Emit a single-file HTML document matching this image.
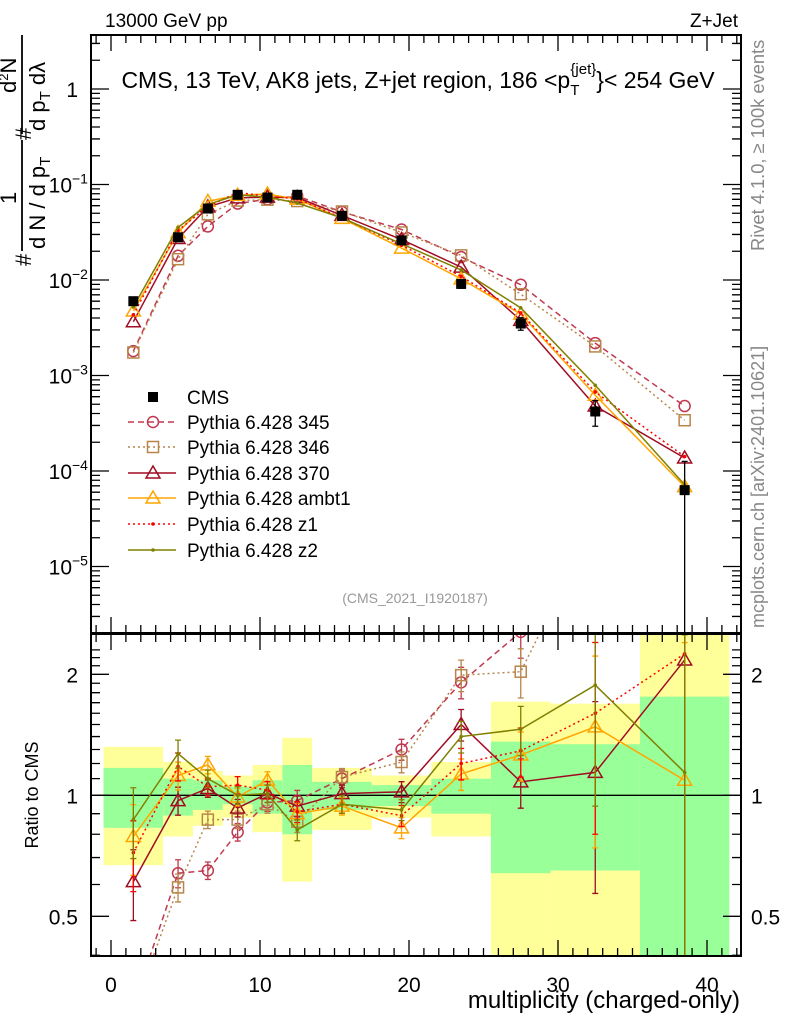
<!DOCTYPE html>
<html><head><meta charset="utf-8"><style>
html,body{margin:0;background:#fff;overflow:hidden;width:786px;height:1024px;}
svg{display:block;font-family:"Liberation Sans",sans-serif;}
</style></head><body>
<svg id="chart" width="786" height="1024" viewBox="0 0 786 1024" xmlns="http://www.w3.org/2000/svg">
<defs>
<clipPath id="clipMain"><rect x="91" y="35" width="650" height="598"/></clipPath>
<clipPath id="clipRatio"><rect x="91" y="634" width="650" height="322"/></clipPath>
</defs>
<g id="bands" clip-path="url(#clipRatio)"></g>
<g id="mainMarks" clip-path="url(#clipMain)"></g>
<g id="ratioMarks" clip-path="url(#clipRatio)"></g>
<g id="axes"></g>
<text x="105" y="27" font-size="19">13000 GeV pp</text>
<text x="738" y="27" font-size="19" text-anchor="end">Z+Jet</text>
<text x="418" y="88" font-size="23" text-anchor="middle">CMS, 13 TeV, AK8 jets, Z+jet region, 186 &lt;p<tspan font-size="15" dy="7">T</tspan><tspan font-size="15" dy="-21" dx="-9">{jet}</tspan><tspan dy="14">}&lt; 254 GeV</tspan></text>
<text x="415" y="603" font-size="14" fill="#999" text-anchor="middle">(CMS_2021_I1920187)</text>
<text transform="translate(764,251) rotate(-90)" font-size="18.3" fill="#888">Rivet 4.1.0, ≥ 100k events</text>
<text transform="translate(764,628) rotate(-90)" font-size="18" fill="#888">mcplots.cern.ch [arXiv:2401.10621]</text>
<g font-size="22">
<text transform="translate(31,266) rotate(-90)">#</text>
<text transform="translate(16,204) rotate(-90)">1</text>
<line x1="22" y1="140" x2="22" y2="251" stroke="#000" stroke-width="1.8"/>
<text transform="translate(45,249) rotate(-90)">d N / d p<tspan font-size="15" dy="5">T</tspan></text>
<text transform="translate(31,140) rotate(-90)">#</text>
<text transform="translate(16,93) rotate(-90)">d<tspan font-size="13" dy="-8">2</tspan><tspan dy="8">N</tspan></text>
<line x1="22" y1="35" x2="22" y2="134" stroke="#000" stroke-width="1.8"/>
<text transform="translate(45,131) rotate(-90)">d p<tspan font-size="15" dy="5">T</tspan><tspan dy="-5"> dλ</tspan></text>
</g>
<text transform="translate(38,795) rotate(-90)" font-size="18" text-anchor="middle">Ratio to CMS</text>
<text x="740" y="1008" font-size="24" text-anchor="end">multiplicity (charged-only)</text>
<g id="legend"></g>
</svg>
<script>
const NS="http://www.w3.org/2000/svg";
const binCenters=[1.5,4.5,6.5,8.5,10.5,12.5,15.5,19.5,23.5,27.5,32.5,38.5];
const cmsValues=[0.006,0.028,0.056,0.078,0.073,0.078,0.047,0.026,0.0091,0.0035,0.00042,0.000063];
const cmsRelErr=[0.05,0.05,0.04,0.04,0.04,0.04,0.05,0.06,0.1,0.15,0.3,1.0];
const ratio345=[0.3,0.64,0.65,0.81,0.96,0.97,1.1,1.3,1.91,2.55,5.2,7.6];
const ratio346=[0.29,0.59,0.87,0.87,0.95,0.86,1.11,1.21,1.99,2.03,4.8,5.4];
const ratio370=[0.61,0.97,1.04,0.93,1.01,0.94,1.01,1.02,1.5,1.08,1.14,2.17];
const ratioAmbt1=[0.79,1.12,1.19,0.99,1.09,0.9,0.94,0.83,1.13,1.26,1.48,1.09];
const ratioZ1=[0.72,1.18,1.05,1.06,1.03,0.91,0.95,0.89,1.2,1.29,1.6,2.25];
const ratioZ2=[0.87,1.27,1.1,1.0,1.01,0.82,0.95,0.92,1.4,1.46,1.88,1.14];
const modelRelErr=[0.2,0.08,0.05,0.05,0.05,0.06,0.05,0.06,0.09,0.14,0.5,1.2];
const bandEdges=[-0.5,3.5,5.5,7.5,9.5,11.5,13.5,17.5,21.5,25.5,29.5,35.5,41.5];
const yellowHi=[1.32,1.21,1.15,1.12,1.19,1.39,1.17,1.12,1.21,1.71,1.69,3.0];
const yellowLo=[0.67,0.79,0.84,0.88,0.81,0.61,0.82,0.88,0.79,0.3,0.3,0.3];
const greenHi=[1.17,1.1,1.09,1.05,1.09,1.19,1.08,1.06,1.1,1.36,1.34,1.76];
const greenLo=[0.83,0.89,0.92,0.95,0.9,0.8,0.92,0.94,0.9,0.64,0.65,0.3];
const xTickLabels=[0,10,20,30,40];

const X=v=>111+14.9*v;
const Ym=v=>89-95.5*Math.log10(v);
const Yr=r=>795.3-121*Math.log2(r);
function el(tag,attrs,parent){const e=document.createElementNS(NS,tag);for(const k in attrs)e.setAttribute(k,attrs[k]);parent.appendChild(e);return e;}

const models=[
 {name:"Pythia 6.428 345",ratio:ratio345,color:"#c0384f",dash:"6,4",marker:"circle",id:"345"},
 {name:"Pythia 6.428 346",ratio:ratio346,color:"#b8864b",dash:"2,3",marker:"square",id:"346"},
 {name:"Pythia 6.428 370",ratio:ratio370,color:"#a00c22",dash:"",marker:"triangle",id:"370"},
 {name:"Pythia 6.428 ambt1",ratio:ratioAmbt1,color:"#ffa500",dash:"",marker:"triangle",id:"ambt1"},
 {name:"Pythia 6.428 z1",ratio:ratioZ1,color:"#ff0000",dash:"2,3",marker:"dot",id:"z1"},
 {name:"Pythia 6.428 z2",ratio:ratioZ2,color:"#808000",dash:"",marker:"dot",id:"z2"}
];
function marker(g,type,x,y,color,name){
 let m;
 if(type==="circle")m=el("circle",{cx:x,cy:y,r:5.5,fill:"none",stroke:color,"stroke-width":1.5},g);
 else if(type==="square")m=el("rect",{x:x-5.5,y:y-5.5,width:11,height:11,fill:"none",stroke:color,"stroke-width":1.5},g);
 else if(type==="triangle")m=el("polygon",{points:`${x},${y-7} ${x-7},${y+5} ${x+7},${y+5}`,fill:"none",stroke:color,"stroke-width":1.5},g);
 else if(type==="filled")m=el("rect",{x:x-5,y:y-5,width:10,height:10,fill:color},g);
 else m=el("circle",{cx:x,cy:y,r:1.8,fill:color},g);
 
 
}
function errbar(g,x,y1,y2,color,name){
 const l=el("path",{d:`M${x},${y1}V${y2}M${x-3},${y1}H${x+3}M${x-3},${y2}H${x+3}`,stroke:color,"stroke-width":1.3,fill:"none"},g);
 
 
}
const bands=document.getElementById("bands");
for(let i=0;i<yellowHi.length;i++){
 const r=el("rect",{x:X(bandEdges[i]),y:Yr(yellowHi[i]),width:X(bandEdges[i+1])-X(bandEdges[i]),height:Yr(yellowLo[i])-Yr(yellowHi[i]),fill:"#ffff99"},bands);
 
 
 const gr=el("rect",{x:X(bandEdges[i]),y:Yr(greenHi[i]),width:X(bandEdges[i+1])-X(bandEdges[i]),height:Yr(greenLo[i])-Yr(greenHi[i]),fill:"#99ff99"},bands);
 
 
}
const ratioG=document.getElementById("ratioMarks");
const unity=el("line",{x1:91,x2:741,y1:Yr(1),y2:Yr(1),stroke:"#000","stroke-width":1.3},ratioG);


const mainG=document.getElementById("mainMarks");
models.forEach(m=>{
 const vals=m.ratio.map((r,i)=>r*cmsValues[i]);
 const pm=el("polyline",{points:binCenters.map((c,i)=>X(c)+","+Ym(vals[i])).join(" "),fill:"none",stroke:m.color,"stroke-width":1.5,"stroke-dasharray":m.dash},mainG);
 
 
 const pr=el("polyline",{points:binCenters.map((c,i)=>X(c)+","+Yr(m.ratio[i])).join(" "),fill:"none",stroke:m.color,"stroke-width":1.5,"stroke-dasharray":m.dash},ratioG);
 
 
 binCenters.forEach((c,i)=>{
  const e=modelRelErr[i];
  errbar(ratioG,X(c),Yr(m.ratio[i]*(1+e)),Yr(Math.max(0.01,m.ratio[i]*(1-e))),m.color,'ratio-error-'+m.id);
  marker(mainG,m.marker,X(c),Ym(vals[i]),m.color,'point-'+m.id);
  marker(ratioG,m.marker,X(c),Yr(m.ratio[i]),m.color,'ratio-point-'+m.id);
 });
});
binCenters.forEach((c,i)=>{
 const e=cmsRelErr[i];
 errbar(mainG,X(c),Ym(cmsValues[i]*(1+e)),Ym(Math.max(1e-8,cmsValues[i]*(1-e))),"#000",'cms-error');
 marker(mainG,"filled",X(c),Ym(cmsValues[i]),"#000",'cms-point');
});
const ax=document.getElementById("axes");
function frame(y0,y1,name){const r=el("rect",{x:91,y:y0,width:650,height:y1-y0,fill:"none",stroke:"#000","stroke-width":2},ax);}
frame(35,633,'main-frame');frame(634,956,'ratio-frame');
let d="";
for(let v=-1;v<=42;v++){
 const x=X(v);const big=v%10===0;const L=big?16:8;
 d+=`M${x},956v${-L}M${x},634v${L}M${x},633v${-L}M${x},35v${L}`;
}
for(let p=-6;p<=0;p++){for(let k=1;k<10;k++){const v=k*Math.pow(10,p);const y=Ym(v);if(y<35||y>633)continue;const L=k===1?18:9;d+=`M91,${y}h${L}M741,${y}h${-L}`;}}
[0.4,0.5,0.6,0.7,0.8,0.9,1,1.1,1.2,1.3,1.4,1.5,1.6,1.7,1.8,1.9,2,2.1,2.2,2.3].forEach(v=>{const y=Yr(v);const L=(v===0.5||v===1||v===2)?18:9;d+=`M91,${y}h${L}M741,${y}h${-L}`;});
const tk=el("path",{d:d,stroke:"#000","stroke-width":1.3,fill:"none"},ax);


xTickLabels.forEach(v=>{const t=el("text",{x:X(v),y:992,"font-size":21,"text-anchor":"middle"},ax);t.textContent=v;});
[0,-1,-2,-3,-4,-5].forEach(p=>{const t=el("text",{x:p===0?78:72,y:Ym(Math.pow(10,p))+8,"font-size":21,"text-anchor":"end"},ax);
 if(p===0){t.textContent="1";}else{t.textContent="10";const s=el("tspan",{"font-size":14,dy:-9,x:72},t);s.setAttribute("text-anchor","start");s.textContent="−"+(-p);}});
[[2,"2"],[1,"1"],[0.5,"0.5"]].forEach(([v,s])=>{
 const t=el("text",{x:78,y:Yr(v)+8,"font-size":21,"text-anchor":"end"},ax);t.textContent=s;
 const t2=el("text",{x:751,y:Yr(v)+8,"font-size":21},ax);t2.textContent=s;
});
const lg=document.getElementById("legend");
const rowY=[397,422,447,473,498,524,550];
marker(lg,"filled",153,rowY[0],"#000",'legend-marker-cms');
const t0=el("text",{x:187,y:rowY[0]+7,"font-size":19},lg);t0.textContent="CMS";
models.forEach((m,i)=>{
 const y=rowY[i+1];
 const l=el("line",{x1:128,x2:176,y1:y,y2:y,stroke:m.color,"stroke-width":1.5,"stroke-dasharray":m.dash},lg);
 
 marker(lg,m.marker,153,y,m.color,'legend-marker-'+m.id);
 const t=el("text",{x:187,y:y+7,"font-size":19},lg);t.textContent=m.name;
 
 
});
</script>
</body></html>
